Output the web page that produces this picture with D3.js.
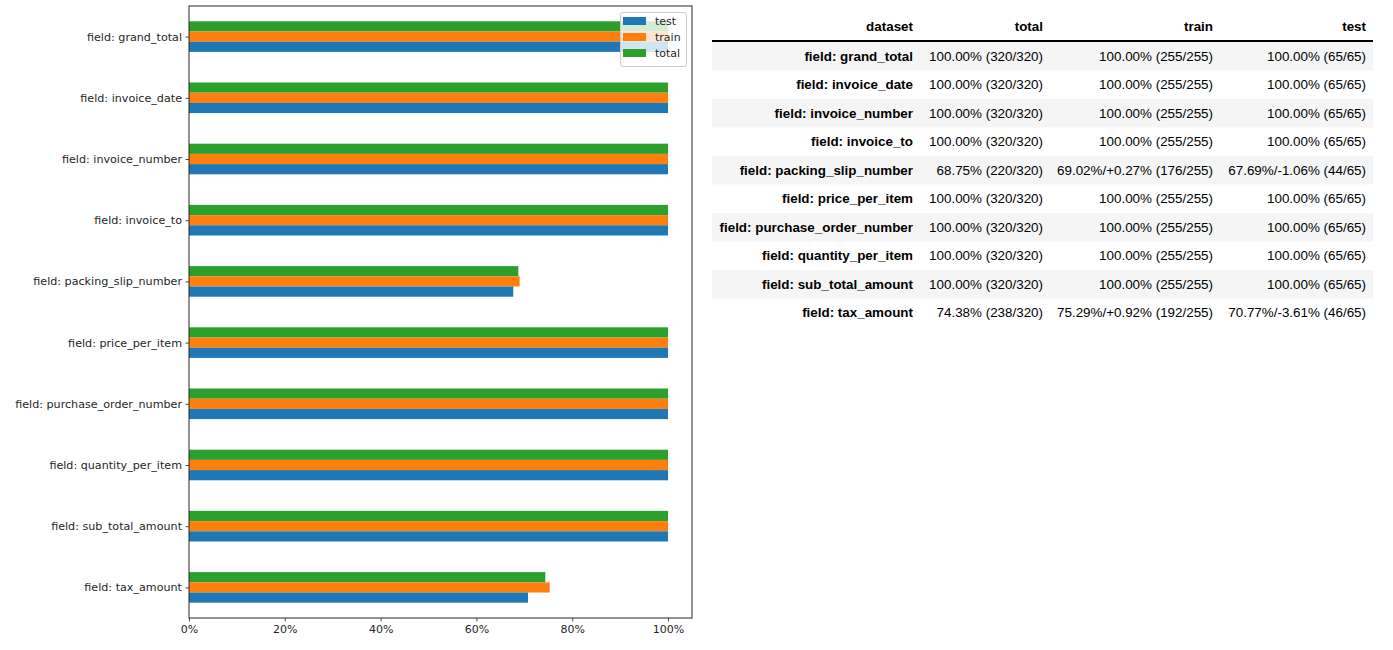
<!DOCTYPE html>
<html>
<head>
<meta charset="utf-8">
<script src="https://cdn.jsdelivr.net/npm/d3@7/dist/d3.min.js"></script>
<style>
  html, body { margin: 0; padding: 0; background: #fff; }
  svg { display: block; }
</style>
</head>
<body>
<svg id="chart" width="1393" height="650"></svg>
<script>
// ---------------- data ----------------
const fields = [
  "field: grand_total", "field: invoice_date", "field: invoice_number",
  "field: invoice_to", "field: packing_slip_number", "field: price_per_item",
  "field: purchase_order_number", "field: quantity_per_item",
  "field: sub_total_amount", "field: tax_amount"
];
const seriesNames = ["test", "train", "total"];
const testValues  = [1, 1, 1, 1, 0.6769, 1, 1, 1, 1, 0.7077];
const trainValues = [1, 1, 1, 1, 0.6902, 1, 1, 1, 1, 0.7529];
const totalValues = [1, 1, 1, 1, 0.6875, 1, 1, 1, 1, 0.7438];
const xTicks = [0, 0.2, 0.4, 0.6, 0.8, 1.0];

const tableHeader = ["dataset", "total", "train", "test"];
const totalText = ["100.00% (320/320)", "100.00% (320/320)", "100.00% (320/320)", "100.00% (320/320)",
  "68.75% (220/320)", "100.00% (320/320)", "100.00% (320/320)", "100.00% (320/320)",
  "100.00% (320/320)", "74.38% (238/320)"];
const trainText = ["100.00% (255/255)", "100.00% (255/255)", "100.00% (255/255)", "100.00% (255/255)",
  "69.02%/+0.27% (176/255)", "100.00% (255/255)", "100.00% (255/255)", "100.00% (255/255)",
  "100.00% (255/255)", "75.29%/+0.92% (192/255)"];
const testText = ["100.00% (65/65)", "100.00% (65/65)", "100.00% (65/65)", "100.00% (65/65)",
  "67.69%/-1.06% (44/65)", "100.00% (65/65)", "100.00% (65/65)", "100.00% (65/65)",
  "100.00% (65/65)", "70.77%/-3.61% (46/65)"];

// ---------------- chart ----------------
const colors = { test: "#1f77b4", train: "#ff7f0e", total: "#2ca02c" };
const valuesBy = { test: testValues, train: trainValues, total: totalValues };
const svg = d3.select("#chart");
const mFont = "'DejaVu Sans', sans-serif";

const plot = { left: 189, right: 692, top: 6, bottom: 618 };
const x = d3.scaleLinear().domain([0, 1.05]).range([plot.left, plot.right]);
const y = d3.scaleLinear().domain([-0.5, fields.length - 0.5]).range([plot.top, plot.bottom]);

const barW = 0.5 / 3;
// offset of each series' bar (top edge) relative to group center; total on top, test at bottom
const offsets = { total: -0.25, train: -0.25 + barW, test: -0.25 + 2 * barW };

const gBars = svg.append("g");
["total", "train", "test"].forEach(s => {
  gBars.selectAll(null)
    .data(fields.map((f, i) => ({ i, v: valuesBy[s][i] })))
    .enter().append("rect")
    .attr("x", x(0))
    .attr("y", d => y(d.i + offsets[s]))
    .attr("width", d => x(d.v) - x(0))
    .attr("height", d => y(d.i + offsets[s] + barW) - y(d.i + offsets[s]))
    .attr("fill", colors[s]);
});

// axes
const xAxis = d3.axisBottom(x).tickValues(xTicks).tickFormat(d3.format(".0%")).tickSize(3.5).tickPadding(3.5);
const gx = svg.append("g").attr("transform", `translate(0,${plot.bottom})`).call(xAxis);
gx.select(".domain").remove();
gx.selectAll("text").attr("font-family", mFont).attr("font-size", 11).attr("fill", "#262626");
gx.selectAll("line").attr("stroke", "#262626").attr("stroke-width", 0.8);

const yAxis = d3.axisLeft(y).tickValues(d3.range(fields.length)).tickFormat(i => fields[i]).tickSize(3.5).tickPadding(3.5);
const gy = svg.append("g").attr("transform", `translate(${plot.left},0)`).call(yAxis);
gy.select(".domain").remove();
gy.selectAll("text").attr("font-family", mFont).attr("font-size", 11.15).attr("fill", "#262626");
gy.selectAll("line").attr("stroke", "#262626").attr("stroke-width", 0.8);

// frame
svg.append("rect")
  .attr("x", plot.left).attr("y", plot.top)
  .attr("width", plot.right - plot.left).attr("height", plot.bottom - plot.top)
  .attr("fill", "none").attr("stroke", "#262626").attr("stroke-width", 1);

// legend
const leg = svg.append("g").attr("transform", "translate(620,12)");
leg.append("rect").attr("x", 0.5).attr("y", 0.5).attr("width", 66).attr("height", 54)
  .attr("rx", 2.5).attr("fill", "#fff").attr("fill-opacity", 0.8)
  .attr("stroke", "#cccccc").attr("stroke-width", 1);
seriesNames.forEach((s, k) => {
  const cy = 9 + k * 16;
  leg.append("rect").attr("x", 3).attr("y", cy - 4).attr("width", 23).attr("height", 8).attr("fill", colors[s]);
  leg.append("text").attr("x", 35).attr("y", cy).attr("dy", "0.35em")
    .attr("font-family", mFont).attr("font-size", 11).attr("fill", "#262626").text(s);
});

// ---------------- table ----------------
const tFont = "'Liberation Sans', Arial, Helvetica, sans-serif";
const tSize = 13.4;
const tbl = { left: 712, right: 1373, headerBottom: 41, rowH: 28.5 };
const colRight = [913, 1043, 1213, 1366];
const gT = svg.append("g");

const rows = fields.map((f, i) => [f, totalText[i], trainText[i], testText[i]]);
rows.forEach((r, i) => {
  const top = tbl.headerBottom + 1 + i * tbl.rowH;
  if (i % 2 === 0) {
    gT.append("rect").attr("x", tbl.left).attr("y", top).attr("width", tbl.right - tbl.left)
      .attr("height", tbl.rowH).attr("fill", "#f5f5f5");
  }
  r.forEach((c, j) => {
    gT.append("text").attr("x", colRight[j]).attr("y", top + tbl.rowH / 2).attr("dy", "0.35em")
      .attr("text-anchor", "end").attr("font-family", tFont).attr("font-size", tSize)
      .attr("font-weight", j === 0 ? "bold" : "normal").attr("fill", "#000").text(c);
  });
});
tableHeader.forEach((h, j) => {
  gT.append("text").attr("x", colRight[j]).attr("y", 26).attr("dy", "0.35em")
    .attr("text-anchor", "end").attr("font-family", tFont).attr("font-size", tSize)
    .attr("font-weight", "bold").attr("fill", "#000").text(h);
});
gT.append("line").attr("x1", tbl.left).attr("x2", tbl.right)
  .attr("y1", tbl.headerBottom).attr("y2", tbl.headerBottom)
  .attr("stroke", "#000").attr("stroke-width", 2);
</script>
</body>
</html>
